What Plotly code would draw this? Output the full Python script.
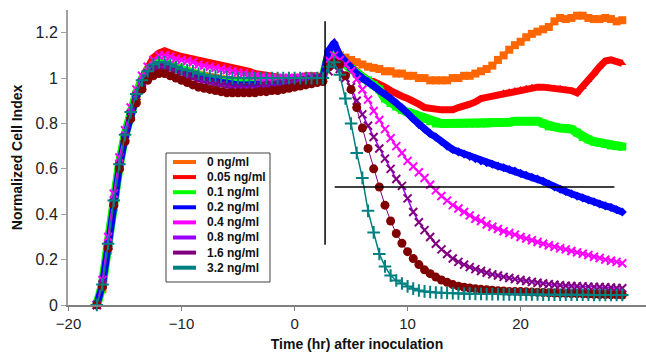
import plotly.graph_objects as go

# ---------------- data ----------------
time_hr = [
    -17.5, -17.0, -16.5, -16.0, -15.5, -15.0, -14.5, -14.0, -13.5, -13.0,
    -12.5, -12.0, -11.5, -11.0, -10.5, -10.0, -9.5, -9.0, -8.5, -8.0,
    -7.5, -7.0, -6.5, -6.0, -5.5, -5.0, -4.5, -4.0, -3.5, -3.0,
    -2.5, -2.0, -1.5, -1.0, -0.5, 0.0, 0.5, 1.0, 1.5, 2.0,
    2.5, 3.0, 3.5, 4.0, 4.5, 5.0, 5.5, 6.0, 6.5, 7.0,
    7.5, 8.0, 8.5, 9.0, 9.5, 10.0, 10.5, 11.0, 11.5, 12.0,
    12.5, 13.0, 13.5, 14.0, 14.5, 15.0, 15.5, 16.0, 16.5, 17.0,
    17.5, 18.0, 18.5, 19.0, 19.5, 20.0, 20.5, 21.0, 21.5, 22.0,
    22.5, 23.0, 23.5, 24.0, 24.5, 25.0, 25.5, 26.0, 26.5, 27.0,
    27.5, 28.0, 28.5, 29.0,
]

series_names = ["0 ng/ml", "0.05 ng/ml", "0.1 ng/ml", "0.2 ng/ml",
                "0.4 ng/ml", "0.8 ng/ml", "1.6 ng/ml", "3.2 ng/ml"]

ci_0 = [
    0.00, 0.07, 0.24, 0.43, 0.60, 0.73, 0.83, 0.91, 0.97, 1.01,
    1.04, 1.055, 1.06, 1.055, 1.045, 1.035, 1.03, 1.02, 1.015, 1.01,
    1.005, 1.0, 0.995, 0.99, 0.99, 0.99, 0.985, 0.985, 0.985, 0.985,
    0.985, 0.99, 0.99, 0.99, 0.99, 0.995, 0.995, 1.0, 1.0, 1.0,
    1.0, 1.10, 1.12, 1.10, 1.09, 1.08, 1.07, 1.06, 1.05, 1.045,
    1.04, 1.03, 1.03, 1.02, 1.02, 1.01, 1.01, 1.00, 1.00, 0.99,
    0.99, 0.99, 0.99, 1.00, 1.00, 1.01, 1.01, 1.02, 1.03, 1.04,
    1.055, 1.08, 1.10, 1.125, 1.145, 1.16, 1.18, 1.195, 1.205, 1.215,
    1.225, 1.25, 1.265, 1.26, 1.265, 1.275, 1.275, 1.265, 1.26, 1.26,
    1.265, 1.26, 1.25, 1.255,
]
ci_005 = [
    0.00, 0.10, 0.29, 0.48, 0.64, 0.76, 0.86, 0.94, 1.00, 1.05,
    1.09, 1.11, 1.12, 1.11, 1.10, 1.095, 1.09, 1.085, 1.075, 1.07,
    1.065, 1.06, 1.055, 1.05, 1.045, 1.04, 1.035, 1.03, 1.02, 1.015,
    1.01, 1.005, 1.0, 1.0, 1.0, 1.0, 1.005, 1.01, 1.01, 1.01,
    1.0, 1.12, 1.15, 1.10, 1.07, 1.05, 1.03, 1.01, 0.99, 0.985,
    0.975, 0.96, 0.945, 0.93, 0.92, 0.91, 0.90, 0.885, 0.87, 0.865,
    0.86, 0.86, 0.86, 0.86, 0.87, 0.875, 0.885, 0.895, 0.91, 0.915,
    0.92, 0.925, 0.935, 0.94, 0.945, 0.95, 0.955, 0.96, 0.96, 0.96,
    0.958, 0.956, 0.955, 0.95, 0.945, 0.935, 0.96, 0.99, 1.02, 1.05,
    1.075, 1.08, 1.07, 1.065,
]
ci_01 = [
    0.00, 0.09, 0.27, 0.46, 0.62, 0.75, 0.85, 0.93, 0.99, 1.03,
    1.055, 1.065, 1.065, 1.055, 1.045, 1.035, 1.025, 1.015, 1.005, 1.0,
    0.995, 0.99, 0.985, 0.98, 0.975, 0.975, 0.975, 0.975, 0.975, 0.975,
    0.98, 0.98, 0.985, 0.985, 0.99, 0.99, 0.995, 1.0, 1.0, 1.0,
    1.0, 1.10, 1.13, 1.09, 1.06, 1.04, 1.02, 1.0, 0.99, 0.97,
    0.95, 0.91, 0.89, 0.875, 0.86, 0.85, 0.84, 0.83, 0.82, 0.81,
    0.80, 0.80, 0.80, 0.80, 0.80, 0.80, 0.80, 0.80, 0.80, 0.80,
    0.805, 0.805, 0.805, 0.805, 0.81, 0.81, 0.81, 0.81, 0.81, 0.80,
    0.787, 0.785, 0.78, 0.78, 0.775, 0.76, 0.74, 0.73, 0.72, 0.715,
    0.71, 0.703, 0.70, 0.698,
]
ci_02 = [
    0.00, 0.09, 0.26, 0.45, 0.61, 0.74, 0.84, 0.92, 0.98, 1.02,
    1.05, 1.06, 1.06, 1.05, 1.04, 1.03, 1.02, 1.01, 1.0, 0.995,
    0.99, 0.985, 0.98, 0.975, 0.97, 0.97, 0.97, 0.97, 0.97, 0.97,
    0.975, 0.975, 0.98, 0.98, 0.985, 0.99, 0.99, 0.995, 1.0, 1.0,
    1.0, 1.12, 1.155, 1.10, 1.07, 1.04, 1.02, 1.0, 0.985, 0.965,
    0.945, 0.93, 0.91, 0.89, 0.87, 0.845, 0.82, 0.795, 0.775, 0.755,
    0.74, 0.72, 0.70, 0.685, 0.675, 0.665, 0.655, 0.645, 0.635, 0.627,
    0.62, 0.612, 0.605, 0.597, 0.59, 0.58, 0.572, 0.563, 0.555, 0.545,
    0.533, 0.52, 0.51, 0.50, 0.49, 0.48, 0.472, 0.463, 0.455, 0.445,
    0.437, 0.43, 0.42, 0.41,
]
ci_04 = [
    0.00, 0.11, 0.30, 0.49, 0.65, 0.77, 0.87, 0.95, 1.01, 1.05,
    1.08, 1.10, 1.10, 1.095, 1.085, 1.08, 1.075, 1.07, 1.06, 1.055,
    1.05, 1.045, 1.04, 1.035, 1.03, 1.025, 1.02, 1.015, 1.01, 1.005,
    1.0, 1.0, 1.0, 1.0, 1.0, 1.0, 1.0, 1.005, 1.005, 1.0,
    1.0, 1.08, 1.10, 1.08, 1.06, 1.03, 0.995, 0.95, 0.905, 0.855,
    0.815, 0.775, 0.735, 0.70, 0.67, 0.635, 0.61, 0.585, 0.56, 0.53,
    0.505, 0.48, 0.46, 0.44, 0.425, 0.41, 0.395, 0.38, 0.37, 0.355,
    0.345, 0.335, 0.325, 0.317, 0.31, 0.30, 0.293, 0.285, 0.278, 0.27,
    0.263, 0.257, 0.25, 0.245, 0.238, 0.232, 0.226, 0.22, 0.213, 0.207,
    0.20, 0.195, 0.19, 0.184,
]
ci_08 = [
    0.00, 0.09, 0.26, 0.45, 0.61, 0.74, 0.84, 0.92, 0.98, 1.02,
    1.04, 1.05, 1.05, 1.04, 1.03, 1.02, 1.01, 1.0, 0.99, 0.985,
    0.98, 0.975, 0.97, 0.965, 0.96, 0.96, 0.96, 0.96, 0.96, 0.965,
    0.965, 0.97, 0.97, 0.975, 0.98, 0.985, 0.99, 0.99, 0.995, 1.0,
    1.0, 1.03, 1.05, 1.04, 1.00, 0.96, 0.90, 0.84, 0.79, 0.74,
    0.69, 0.645, 0.60, 0.555, 0.525, 0.47, 0.41, 0.365, 0.33, 0.30,
    0.27, 0.245, 0.225, 0.205, 0.19, 0.178, 0.167, 0.158, 0.15, 0.142,
    0.135, 0.13, 0.124, 0.119, 0.114, 0.11, 0.106, 0.102, 0.098, 0.095,
    0.092, 0.089, 0.087, 0.085, 0.084, 0.083, 0.082, 0.081, 0.08, 0.079,
    0.078, 0.077, 0.075, 0.074,
]
ci_16 = [
    0.00, 0.08, 0.25, 0.44, 0.60, 0.72, 0.82, 0.89, 0.95, 0.99,
    1.01, 1.02, 1.02, 1.01, 1.0, 0.99, 0.98, 0.97, 0.96, 0.955,
    0.95, 0.945, 0.94, 0.935, 0.935, 0.935, 0.935, 0.935, 0.935, 0.94,
    0.94, 0.945, 0.945, 0.95, 0.955, 0.96, 0.965, 0.97, 0.975, 0.98,
    0.985, 1.05, 1.07, 1.06, 1.01, 0.95, 0.87, 0.78, 0.69, 0.60,
    0.52, 0.44, 0.37, 0.315, 0.272, 0.235, 0.205, 0.178, 0.155, 0.138,
    0.123, 0.11, 0.10, 0.09, 0.083, 0.078, 0.075, 0.072, 0.069, 0.067,
    0.065, 0.063, 0.062, 0.06, 0.06, 0.059, 0.058, 0.057, 0.056, 0.055,
    0.054, 0.053, 0.052, 0.051, 0.05, 0.05, 0.049, 0.048, 0.047, 0.046,
    0.046, 0.045, 0.045, 0.044,
]
ci_32 = [
    0.00, 0.09, 0.27, 0.46, 0.62, 0.75, 0.85, 0.93, 0.99, 1.03,
    1.06, 1.07, 1.07, 1.06, 1.05, 1.04, 1.035, 1.03, 1.02, 1.015,
    1.01, 1.01, 1.005, 1.005, 1.0, 1.0, 1.0, 1.0, 1.0, 1.0,
    1.0, 1.0, 1.0, 1.0, 1.0, 1.0, 1.0, 1.0, 1.0, 1.0,
    1.0, 1.05, 1.07, 1.015, 0.91, 0.80, 0.67, 0.56, 0.415, 0.32,
    0.225, 0.17, 0.13, 0.108, 0.095, 0.082, 0.072, 0.064, 0.06, 0.057,
    0.055, 0.054, 0.053, 0.052, 0.051, 0.05, 0.05, 0.049, 0.049, 0.048,
    0.048, 0.048, 0.047, 0.047, 0.047, 0.046, 0.046, 0.046, 0.046, 0.045,
    0.045, 0.045, 0.045, 0.045, 0.045, 0.045, 0.045, 0.045, 0.044, 0.044,
    0.044, 0.044, 0.044, 0.044,
]

# reference lines drawn on the chart
inoculation_time = 2.7
inoculation_span = [0.265, 1.25]
threshold_ci = 0.52
threshold_span = [3.55, 28.3]

x_tick_values = [-20, -10, 0, 10, 20]
y_tick_values = [0, 0.2, 0.4, 0.6, 0.8, 1.0, 1.2]

# ---------------- styles ----------------
FONT = "Liberation Sans, Arial, sans-serif"
series_values = [ci_0, ci_005, ci_01, ci_02, ci_04, ci_08, ci_16, ci_32]
legend_colors = ["#FF6600", "#FF0000", "#00FF00", "#0000FF",
                 "#FF00FF", "#9900FF", "#800080", "#008080"]
styles = [
    dict(mode="lines+markers", line=dict(color="#FF6600", width=4),
         marker=dict(symbol="square", size=8, color="#FF6600")),
    dict(mode="lines+markers", line=dict(color="#FF0000", width=7),
         marker=dict(symbol="triangle-up", size=7, color="#FF0000")),
    dict(mode="lines+markers", line=dict(color="#00FF00", width=9),
         marker=dict(symbol="square", size=8, color="#00FF00")),
    dict(mode="lines+markers", line=dict(color="#0000FF", width=7),
         marker=dict(symbol="diamond", size=7, color="#0000FF")),
    dict(mode="lines+markers", line=dict(color="#FF00FF", width=1.5),
         marker=dict(symbol="x-thin", size=8, color="#FF00FF",
                     line=dict(color="#FF00FF", width=2))),
    dict(mode="lines+markers", line=dict(color="#9900FF", width=1.5),
         marker=dict(symbol="x-thin", size=8, color="#800080",
                     line=dict(color="#800080", width=2))),
    dict(mode="lines+markers", line=dict(color="#800080", width=1),
         marker=dict(symbol="circle", size=9, color="#800000")),
    dict(mode="lines+markers", line=dict(color="#008080", width=1.5),
         marker=dict(symbol="cross-thin", size=9, color="#008080",
                     line=dict(color="#008080", width=2))),
]

fig = go.Figure()
for name, vals, st in zip(series_names, series_values, styles):
    fig.add_trace(go.Scatter(x=time_hr, y=vals, name=name, showlegend=False,
                             cliponaxis=False, **st))

# plot-area geometry in pixels (for legend placement)
W, H = 646, 356
PL, PR, PT, PB = 68, 646, 10, 305


def px_x(px):
    return (px - PL) / (PR - PL)


def px_y(py):
    return (PB - py) / (PB - PT)


shapes = [
    dict(type="line", xref="x", yref="y", x0=inoculation_time, x1=inoculation_time,
         y0=inoculation_span[0], y1=inoculation_span[1],
         line=dict(color="#000000", width=1.5)),
    dict(type="line", xref="x", yref="y", x0=threshold_span[0], x1=threshold_span[1],
         y0=threshold_ci, y1=threshold_ci, line=dict(color="#000000", width=1.5)),
    dict(type="rect", xref="paper", yref="paper", x0=px_x(166), x1=px_x(270),
         y0=px_y(282), y1=px_y(153), line=dict(color="#404040", width=1),
         fillcolor="white", layer="above"),
]
annotations = []
for i, (name, col) in enumerate(zip(series_names, legend_colors)):
    yy = px_y(162 + 15.1 * i)
    shapes.append(dict(type="line", xref="paper", yref="paper", x0=px_x(173), x1=px_x(196),
                       y0=yy, y1=yy, line=dict(color=col, width=4), layer="above"))
    annotations.append(dict(xref="paper", yref="paper", x=px_x(205), y=yy, text=name,
                            showarrow=False, xanchor="left", yanchor="middle",
                            font=dict(family=FONT, size=12, color="#111111", weight="bold")))

fig.update_layout(
    width=W, height=H,
    margin=dict(l=PL, r=W - PR, t=PT, b=H - PB),
    paper_bgcolor="white", plot_bgcolor="white",
    showlegend=False,
    shapes=shapes, annotations=annotations,
    xaxis=dict(range=[-20.05, 31.1], tickvals=x_tick_values, showgrid=False, zeroline=False,
               showline=True, linecolor="#808080", linewidth=2,
               ticks="outside", ticklen=4, tickcolor="#808080", tickwidth=1,
               tickfont=dict(family=FONT, size=15, color="#222222"),
               title=dict(text="Time (hr) after inoculation", standoff=8,
                          font=dict(family=FONT, size=14, color="#111111", weight="bold"))),
    yaxis=dict(range=[0, 1.3], tickvals=y_tick_values, showgrid=False, zeroline=False,
               showline=True, linecolor="#A0A0A0", linewidth=2,
               ticks="outside", ticklen=5, tickcolor="#A0A0A0", tickwidth=1,
               tickfont=dict(family=FONT, size=16, color="#222222"),
               title=dict(text="Normalized Cell Index", standoff=10,
                          font=dict(family=FONT, size=14, color="#111111", weight="bold"))),
)

fig.write_html("out.html", config={"displayModeBar": False},
               post_script="document.body.style.margin='0';document.body.style.overflow='hidden';")
